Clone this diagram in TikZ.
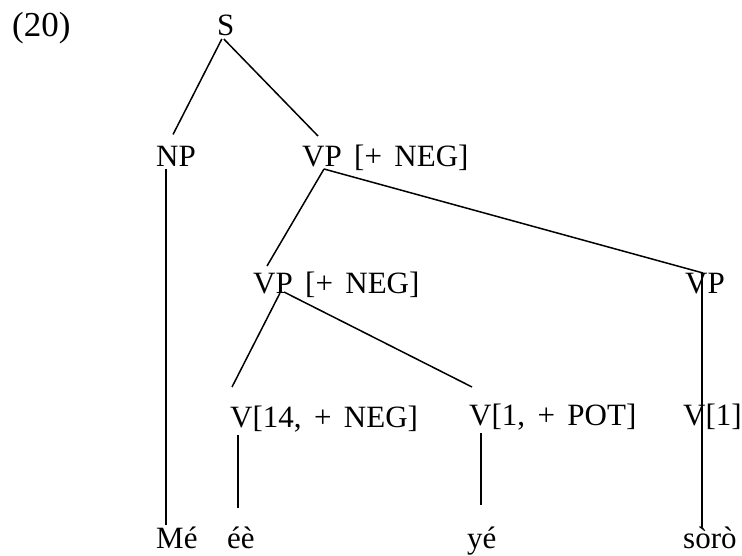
\documentclass[tikz,border=0pt]{standalone}
\usepackage{fontspec}
\setmainfont[WordSpace=1.6]{Liberation Serif}
\tikzset{
  cat/.style={anchor=base west, inner sep=0pt, font=\fontsize{31}{38}\selectfont},
  branch/.style={line width=1.5pt}
}
\begin{document}
\begin{tikzpicture}[x=1pt, y=-1pt]
      \useasboundingbox (0,0) rectangle (742,556);
      % labels of the tree
      \node[cat, font=\fontsize{35}{42}\selectfont] (num) at (12,37) {(20)};
      \node[cat] (s) at (217,36) {S};
      \node[cat] (np) at (156,167) {NP};
      \node[cat] (vpa) at (302,167) {VP [+ NEG]};
      \node[cat] (vpb) at (253,294) {VP [+ NEG]};
      \node[cat] (vpc) at (685,294) {VP};
      \node[cat] (va) at (230,427) {V[14,\ + NEG]};
      \node[cat] (vb) at (469,425) {V[1,\ + POT]};
      \node[cat] (vc) at (683,425) {V[1]};
      \node[cat] (wa) at (156,548) {Mé};
      \node[cat] (wb) at (227,548) {éè};
      \node[cat] (wc) at (467,548) {yé};
      \node[cat] (wd) at (683,548) {sòrò};
      % branches
      \draw[branch] ([xshift=-4pt,yshift=-3pt]s.base) -- ([xshift=-3pt,yshift=12pt]np.north);
      \draw[branch] ([xshift=-2pt,yshift=-3pt]s.base) -- ([xshift=16pt,yshift=31pt]vpa.base west);
      \draw[branch] ([xshift=10pt,yshift=-2pt]np.base west) -- ([xshift=10pt,yshift=23pt]wa.base west);
      \draw[branch] ([xshift=22pt,yshift=-2pt]vpa.base west) -- ([xshift=14pt,yshift=28pt]vpb.base west);
      \draw[branch] ([xshift=22pt,yshift=-2pt]vpa.base west) -- ([xshift=18pt,yshift=21pt]vpc.base west);
      \draw[branch] ([xshift=17pt,yshift=21pt]vpc.base west) -- ([xshift=19pt,yshift=21pt]wd.base west);
      \draw[branch] ([xshift=27pt,yshift=1pt]vpb.base west) -- ([xshift=2pt,yshift=40pt]va.base west);
      \draw[branch] ([xshift=31pt,yshift=2pt]vpb.base west) -- ([xshift=3pt,yshift=38pt]vb.base west);
      \draw[branch] ([xshift=8pt,yshift=-8pt]va.base west) -- ([xshift=11pt,yshift=40pt]wb.base west);
      \draw[branch] ([xshift=12pt,yshift=-8pt]vb.base west) -- ([xshift=14pt,yshift=43pt]wc.base west);
\end{tikzpicture}
\end{document}
